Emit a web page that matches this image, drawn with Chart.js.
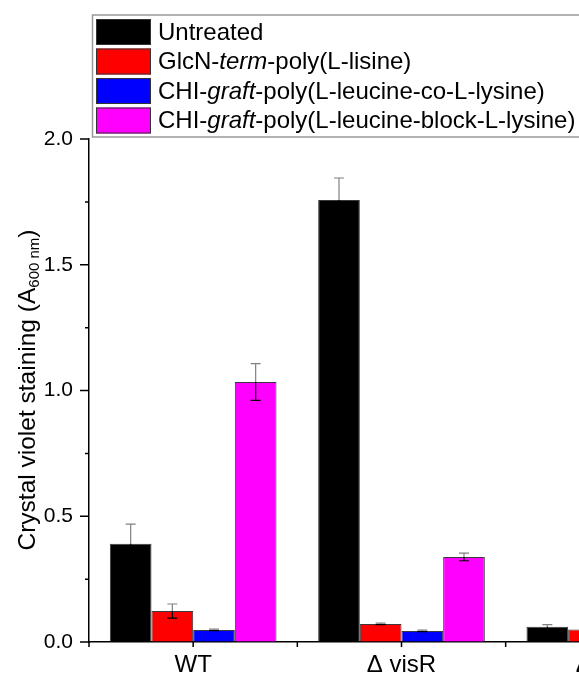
<!DOCTYPE html>
<html>
<head>
<meta charset="utf-8">
<script src="https://cdn.jsdelivr.net/npm/chart.js@4/dist/chart.umd.min.js"></script>
<style>
  html, body { margin: 0; padding: 0; background: #fff; overflow: hidden; }
  #wrap { width: 579px; height: 678px; overflow: hidden; position: relative; }
  canvas { display: block; }
</style>
</head>
<body>
<div id="wrap"><canvas id="c" width="760" height="678"></canvas></div>
<script>
const categories = ['WT', 'Δ visR', 'Δ visS'];

// legend text, *...* marks the italic part
const seriesNames = [
  'Untreated',
  'GlcN-*term*-poly(L-lisine)',
  'CHI-*graft*-poly(L-leucine-co-L-lysine)',
  'CHI-*graft*-poly(L-leucine-block-L-lysine)'
];
const seriesColors = ['#000000', '#ff0000', '#0000ff', '#ff00ff'];

const untreated = [0.391, 1.757, 0.061];
const untreatedErr = [0.078, 0.088, 0.008];
const glcnTerm = [0.123, 0.072, 0.050];
const glcnTermErr = [0.028, 0.003, 0.003];
const chiGraftCo = [0.048, 0.044, 0.040];
const chiGraftCoErr = [0.003, 0.003, 0.003];
const chiGraftBlock = [1.034, 0.338, 0.050];
const chiGraftBlockErr = [0.073, 0.015, 0.005];

const yTicks = [0, 0.5, 1.0, 1.5, 2.0];

const values = [untreated, glcnTerm, chiGraftCo, chiGraftBlock];
const errors = [untreatedErr, glcnTermErr, chiGraftCoErr, chiGraftBlockErr];

const FONT = '"Liberation Sans", Arial, sans-serif';

const errorBars = {
  id: 'errorBars',
  afterDatasetsDraw(chart) {
    const {ctx} = chart;
    const y = chart.scales.y;
    ctx.save();
    ctx.lineWidth = 1.2;
    chart.data.datasets.forEach((ds, d) => {
      const meta = chart.getDatasetMeta(d);
      meta.data.forEach((bar, i) => {
        const v = ds.data[i], e = ds.err[i];
        const top = y.getPixelForValue(v + e);
        const bot = y.getPixelForValue(v - e);
        ctx.strokeStyle = '#808080';
        ctx.beginPath();
        ctx.moveTo(bar.x, bar.y); ctx.lineTo(bar.x, top);
        ctx.moveTo(bar.x - 5, top); ctx.lineTo(bar.x + 5, top);
        ctx.stroke();
        ctx.strokeStyle = '#000';
        ctx.beginPath();
        ctx.moveTo(bar.x, bar.y); ctx.lineTo(bar.x, bot);
        ctx.moveTo(bar.x - 5, bot); ctx.lineTo(bar.x + 5, bot);
        ctx.stroke();
      });
    });
    ctx.restore();
  }
};

const axisTicks = {
  id: 'axisTicks',
  afterDraw(chart) {
    const {ctx, chartArea} = chart;
    const x = chart.scales.x, y = chart.scales.y;
    ctx.save();
    ctx.strokeStyle = '#000';
    ctx.lineWidth = 1.5;
    ctx.beginPath();
    for (let v = 0; v <= 2.0001; v += 0.25) {
      const py = y.getPixelForValue(v);
      const major = yTicks.some(t => Math.abs(t - v) < 1e-6);
      ctx.moveTo(chartArea.left - (major ? 9 : 4), py);
      ctx.lineTo(chartArea.left, py);
    }
    const step = (chartArea.right - chartArea.left) / categories.length;
    categories.forEach((c, i) => {
      const px = x.getPixelForValue(i);
      ctx.moveTo(px, chartArea.bottom); ctx.lineTo(px, chartArea.bottom + 5);
      ctx.moveTo(px - step / 2, chartArea.bottom); ctx.lineTo(px - step / 2, chartArea.bottom + 5);
    });
    ctx.stroke();
    ctx.restore();
  }
};

const yTitle = {
  id: 'yTitle',
  afterDraw(chart) {
    const {ctx} = chart;
    const parts = [
      ['Crystal violet staining (A', 24.5, 0],
      ['600 nm', 15, 4],
      [')', 24.5, 0]
    ];
    ctx.save();
    ctx.fillStyle = '#000';
    ctx.textBaseline = 'alphabetic';
    let total = 0;
    parts.forEach(p => { ctx.font = p[1] + 'px ' + FONT; total += ctx.measureText(p[0]).width; });
    ctx.translate(35, 390);
    ctx.rotate(-Math.PI / 2);
    let pos = -total / 2;
    parts.forEach(p => {
      ctx.font = p[1] + 'px ' + FONT;
      ctx.fillText(p[0], pos, p[2]);
      pos += ctx.measureText(p[0]).width;
    });
    ctx.restore();
  }
};

const legendBox = {
  id: 'legendBox',
  afterDraw(chart) {
    const {ctx} = chart;
    ctx.save();
    ctx.strokeStyle = '#999';
    ctx.lineWidth = 1.5;
    ctx.strokeRect(92.5, 15, 495, 122);
    seriesNames.forEach((name, i) => {
      const top = 19 + i * 29.5;
      ctx.fillStyle = seriesColors[i];
      ctx.fillRect(96, top, 55, 26);
      ctx.strokeStyle = '#333';
      ctx.lineWidth = 1;
      ctx.strokeRect(96.5, top + 0.5, 54, 25);
      ctx.fillStyle = '#000';
      ctx.textBaseline = 'middle';
      let px = 158;
      name.split('*').forEach((seg, k) => {
        ctx.font = (k % 2 ? 'italic ' : '') + '24px ' + FONT;
        ctx.fillText(seg, px, top + 14);
        px += ctx.measureText(seg).width;
      });
    });
    ctx.restore();
  }
};

new Chart(document.getElementById('c'), {
  type: 'bar',
  data: {
    labels: categories,
    datasets: values.map((data, i) => ({
      label: seriesNames[i].replace(/\*/g, ''),
      data,
      err: errors[i],
      backgroundColor: seriesColors[i],
      borderColor: '#3a3a3a',
      borderWidth: 1,
      categoryPercentage: 0.8,
      barPercentage: 1.0
    }))
  },
  options: {
    responsive: false,
    animation: false,
    layout: {padding: {left: 0, top: 139, right: 46, bottom: 0}},
    plugins: {legend: {display: false}, tooltip: {enabled: false}},
    scales: {
      x: {
        offset: true,
        grid: {display: true, drawOnChartArea: false, color: 'rgba(0,0,0,0)', tickLength: 5},
        border: {display: true, color: '#000', width: 1.5},
        ticks: {color: '#000', font: {family: FONT, size: 24}, padding: 4, maxRotation: 0},
        afterFit(s) { s.height = 36; }
      },
      y: {
        min: 0,
        max: 2.0,
        grid: {display: true, drawOnChartArea: false, color: 'rgba(0,0,0,0)', tickLength: 8},
        border: {display: true, color: '#000', width: 1.5},
        ticks: {
          stepSize: 0.25,
          color: '#000',
          font: {family: FONT, size: 21},
          padding: 8,
          callback: v => yTicks.some(t => Math.abs(t - v) < 1e-6) ? v.toFixed(1) : ''
        },
        afterFit(s) { s.width = 89; }
      }
    }
  },
  plugins: [errorBars, axisTicks, yTitle, legendBox]
});
</script>
</body>
</html>
